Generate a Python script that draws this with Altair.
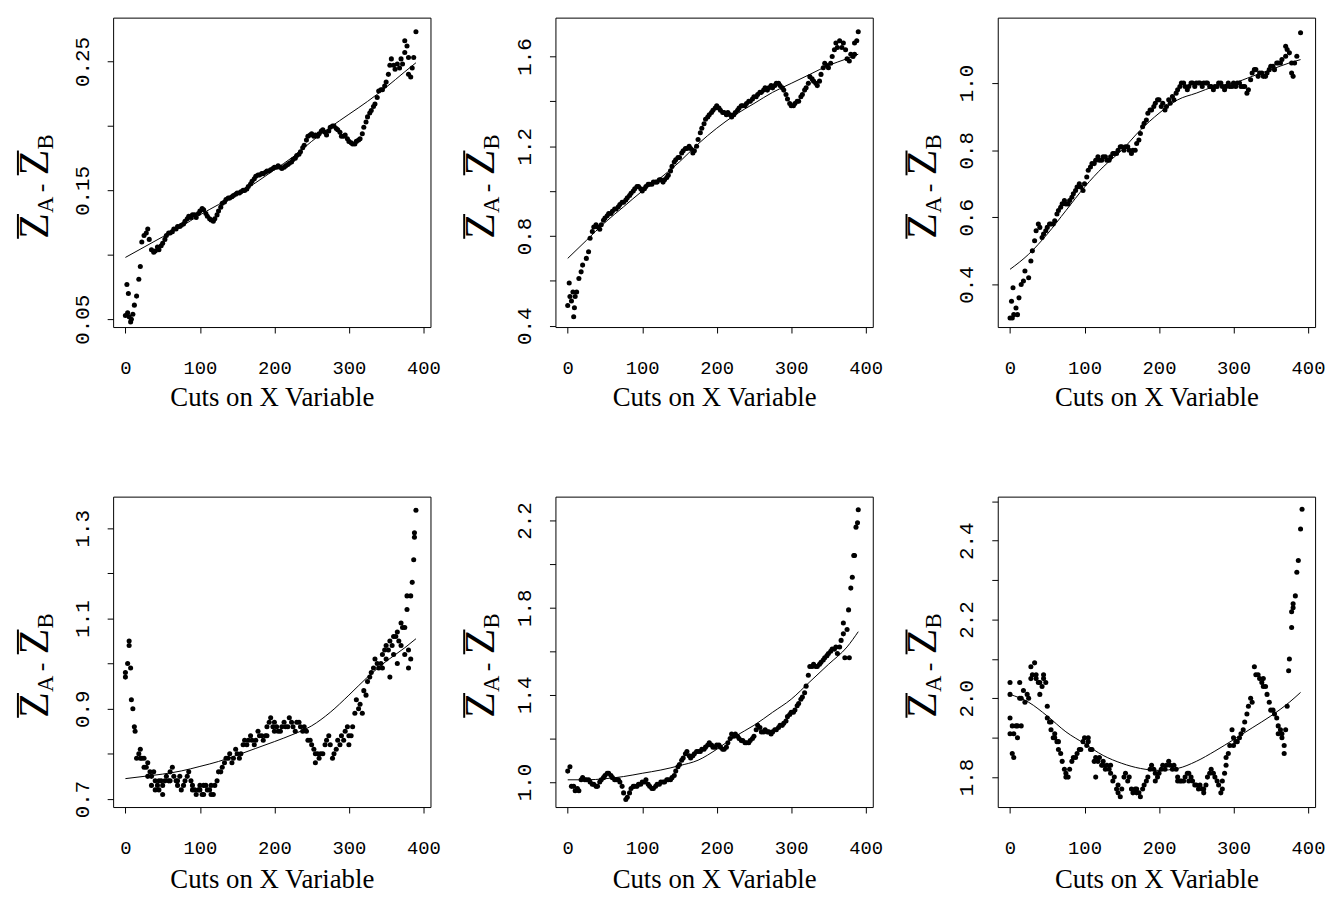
import altair as alt
import pandas as pd

# ---------------- data ----------------
XS = [0, 5, 10, 15, 20, 25, 30, 35, 40, 45, 50, 55, 60, 65, 70, 75, 80, 85, 90, 95,
      100, 105, 110, 115, 120, 125, 130, 135, 140, 145, 150, 155, 160, 165, 170, 175,
      180, 185, 190, 195, 200, 205, 210, 215, 220, 225, 230, 235, 240, 245, 250, 255,
      260, 265, 270, 275, 280, 285, 290, 295, 300, 305, 310, 315, 320, 325, 330, 335,
      340, 345, 350, 355, 360, 365, 370, 375, 380, 385, 390]

P1_Y = [0.053, 0.052, 0.054, 0.068, 0.091, 0.115, 0.120, 0.104, 0.103, 0.104, 0.109, 0.115,
        0.117, 0.120, 0.122, 0.123, 0.126, 0.130, 0.131, 0.129, 0.134, 0.135, 0.130, 0.127,
        0.128, 0.134, 0.140, 0.143, 0.144, 0.146, 0.148, 0.149, 0.150, 0.153, 0.157, 0.161,
        0.162, 0.163, 0.165, 0.166, 0.168, 0.169, 0.167, 0.169, 0.171, 0.174, 0.177, 0.180,
        0.185, 0.192, 0.194, 0.193, 0.194, 0.197, 0.193, 0.199, 0.200, 0.197, 0.192, 0.193,
        0.188, 0.186, 0.188, 0.190, 0.199, 0.207, 0.212, 0.217, 0.227, 0.228, 0.234, 0.247,
        0.247, 0.248, 0.252, 0.257, 0.253, 0.245, 0.273]
P1_EX_X = [2, 3, 4, 7, 8, 12, 18, 22, 28, 32, 38, 43, 48, 53, 58, 63, 68, 73, 78, 83, 88,
           93, 98, 103, 108, 113, 118, 123, 128, 133, 138, 143, 148, 153, 158, 163, 168, 173,
           178, 183, 188, 193, 198, 203, 208, 213, 218, 223, 228, 233, 238, 243, 248, 253,
           258, 263, 268, 273, 278, 283, 288, 293, 298, 303, 308, 313, 318, 323, 328, 333,
           338, 343, 348, 353, 357, 362, 368, 372, 375, 378, 380, 383, 387]
P1_EX_Y = [0.077, 0.055, 0.070, 0.048, 0.050, 0.061, 0.081, 0.110, 0.117, 0.112, 0.102,
           0.106, 0.107, 0.112, 0.117, 0.118, 0.120, 0.122, 0.124, 0.128, 0.129, 0.131,
           0.132, 0.136, 0.132, 0.128, 0.126, 0.131, 0.137, 0.141, 0.144, 0.145, 0.147,
           0.148, 0.150, 0.151, 0.155, 0.159, 0.162, 0.163, 0.164, 0.165, 0.167, 0.168,
           0.168, 0.168, 0.170, 0.172, 0.175, 0.178, 0.183, 0.189, 0.193, 0.192, 0.192,
           0.196, 0.195, 0.196, 0.200, 0.198, 0.195, 0.192, 0.190, 0.187, 0.186, 0.189,
           0.194, 0.203, 0.210, 0.215, 0.222, 0.228, 0.231, 0.240, 0.252, 0.244, 0.245,
           0.248, 0.266, 0.262, 0.240, 0.238, 0.253]

P2_Y = [0.49, 0.51, 0.53, 0.61, 0.67, 0.70, 0.79, 0.84, 0.84, 0.85, 0.88, 0.90, 0.91, 0.92,
        0.94, 0.95, 0.97, 0.99, 1.01, 1.02, 1.00, 1.02, 1.03, 1.04, 1.04, 1.05, 1.05, 1.07,
        1.11, 1.14, 1.15, 1.18, 1.19, 1.19, 1.18, 1.23, 1.28, 1.32, 1.34, 1.36, 1.38, 1.36,
        1.35, 1.35, 1.33, 1.35, 1.37, 1.38, 1.39, 1.40, 1.42, 1.43, 1.44, 1.46, 1.46, 1.46,
        1.48, 1.47, 1.45, 1.41, 1.38, 1.39, 1.40, 1.43, 1.46, 1.51, 1.49, 1.47, 1.52, 1.57,
        1.55, 1.60, 1.66, 1.67, 1.66, 1.59, 1.61, 1.61, 1.71]
P2_EX_X = [2, 3, 7, 8, 9, 12, 18, 28, 33, 38, 43, 48, 53, 58, 63, 68, 73, 78, 83, 88, 93,
           98, 103, 108, 113, 118, 123, 128, 133, 138, 143, 148, 153, 158, 163, 168, 173,
           178, 183, 188, 193, 198, 203, 208, 213, 218, 223, 228, 233, 238, 243, 248, 253,
           258, 263, 268, 273, 278, 283, 288, 293, 298, 303, 308, 313, 318, 323, 328, 333,
           338, 343, 348, 353, 358, 362, 368, 373, 378, 383, 385, 388]
P2_EX_Y = [0.59, 0.53, 0.55, 0.44, 0.48, 0.55, 0.64, 0.73, 0.82, 0.85, 0.83, 0.87, 0.89,
           0.90, 0.92, 0.93, 0.95, 0.96, 0.98, 1.00, 1.02, 1.01, 1.01, 1.03, 1.03, 1.04,
           1.05, 1.04, 1.06, 1.09, 1.13, 1.15, 1.17, 1.19, 1.20, 1.17, 1.20, 1.26, 1.30,
           1.33, 1.35, 1.37, 1.37, 1.35, 1.34, 1.34, 1.34, 1.36, 1.38, 1.38, 1.40, 1.41,
           1.42, 1.44, 1.45, 1.45, 1.47, 1.47, 1.48, 1.46, 1.43, 1.39, 1.38, 1.40, 1.42,
           1.45, 1.48, 1.50, 1.48, 1.49, 1.55, 1.56, 1.57, 1.63, 1.64, 1.64, 1.63, 1.58,
           1.60, 1.66, 1.67]

P3_Y = [0.30, 0.31, 0.31, 0.40, 0.44, 0.42, 0.50, 0.56, 0.57, 0.55, 0.57, 0.58, 0.59, 0.62,
        0.64, 0.64, 0.65, 0.67, 0.69, 0.69, 0.70, 0.74, 0.76, 0.77, 0.77, 0.78, 0.77, 0.78,
        0.79, 0.80, 0.81, 0.81, 0.80, 0.80, 0.82, 0.85, 0.88, 0.91, 0.92, 0.94, 0.95, 0.94,
        0.93, 0.94, 0.95, 0.98, 1.00, 0.99, 0.99, 1.00, 1.00, 1.00, 1.00, 1.00, 0.99, 0.99,
        1.00, 0.99, 0.99, 0.99, 1.00, 1.00, 0.99, 0.99, 0.98, 1.03, 1.04, 1.03, 1.02, 1.03,
        1.05, 1.04, 1.06, 1.07, 1.11, 1.09, 1.02, 1.08, 1.15]
P3_EX_X = [2, 3, 4, 8, 12, 18, 28, 33, 38, 43, 48, 53, 58, 63, 68, 73, 78, 83, 88, 93, 98,
           103, 108, 113, 118, 123, 128, 133, 138, 143, 148, 153, 158, 163, 168, 173, 178,
           183, 188, 193, 198, 203, 208, 213, 218, 223, 228, 233, 238, 243, 248, 253, 258,
           263, 268, 273, 278, 283, 288, 293, 298, 303, 308, 313, 318, 323, 328, 333, 338,
           343, 348, 353, 358, 363, 370, 372, 378, 378, 382]
P3_EX_Y = [0.35, 0.30, 0.39, 0.33, 0.36, 0.41, 0.47, 0.53, 0.58, 0.54, 0.56, 0.58, 0.58,
           0.61, 0.63, 0.65, 0.64, 0.66, 0.68, 0.70, 0.68, 0.72, 0.75, 0.76, 0.78, 0.77,
           0.78, 0.77, 0.79, 0.79, 0.81, 0.80, 0.81, 0.79, 0.80, 0.83, 0.87, 0.89, 0.92,
           0.93, 0.95, 0.93, 0.92, 0.95, 0.96, 0.97, 0.99, 1.00, 0.98, 1.00, 0.99, 1.00,
           0.99, 1.00, 0.99, 0.98, 0.99, 1.00, 0.98, 1.00, 0.99, 0.99, 1.00, 0.99, 0.97,
           1.01, 1.04, 1.02, 1.03, 1.02, 1.04, 1.05, 1.06, 1.06, 1.08, 1.10, 1.06, 1.03, 1.06]

P4_Y = [0.97, 1.05, 0.90, 0.79, 0.81, 0.79, 0.75, 0.75, 0.74, 0.74, 0.73, 0.75, 0.76, 0.75,
        0.73, 0.72, 0.74, 0.76, 0.73, 0.71, 0.72, 0.73, 0.72, 0.71, 0.73, 0.76, 0.77, 0.79,
        0.80, 0.79, 0.80, 0.80, 0.83, 0.83, 0.83, 0.83, 0.84, 0.83, 0.86, 0.88, 0.87, 0.85,
        0.86, 0.86, 0.88, 0.86, 0.87, 0.86, 0.86, 0.83, 0.82, 0.80, 0.79, 0.80, 0.83, 0.82,
        0.80, 0.83, 0.84, 0.85, 0.84, 0.86, 0.92, 0.91, 0.94, 0.96, 0.98, 1.01, 0.99, 1.02,
        1.04, 1.05, 1.06, 1.07, 1.09, 1.08, 0.99, 1.18, 1.34]
P4_EX_X = [0, 3, 5, 7, 8, 12, 13, 18, 20, 22, 25, 28, 30, 33, 35, 38, 40, 43, 45, 48, 50,
           53, 58, 60, 63, 68, 70, 73, 78, 83, 88, 90, 93, 98, 100, 103, 105, 108, 113, 115,
           118, 123, 128, 133, 138, 143, 148, 153, 158, 163, 168, 173, 178, 183, 188, 190,
           193, 198, 200, 203, 208, 213, 218, 223, 228, 233, 238, 243, 248, 253, 255, 258,
           262, 268, 273, 278, 283, 288, 293, 298, 300, 303, 308, 313, 318, 323, 328, 333,
           338, 343, 345, 348, 350, 353, 355, 358, 360, 363, 365, 367, 370, 372, 375, 378,
           378, 380, 383, 383, 387, 388, 388]
P4_EX_Y = [0.98, 1.00, 1.04, 0.99, 0.92, 0.86, 0.85, 0.80, 0.79, 0.79, 0.77, 0.77, 0.78,
           0.76, 0.73, 0.76, 0.72, 0.73, 0.72, 0.74, 0.71, 0.74, 0.74, 0.74, 0.77, 0.74,
           0.74, 0.75, 0.73, 0.75, 0.74, 0.72, 0.72, 0.72, 0.73, 0.71, 0.71, 0.73, 0.72,
           0.73, 0.71, 0.74, 0.76, 0.78, 0.79, 0.78, 0.81, 0.79, 0.82, 0.82, 0.84, 0.82,
           0.85, 0.84, 0.84, 0.84, 0.87, 0.86, 0.85, 0.86, 0.85, 0.87, 0.86, 0.87, 0.85,
           0.87, 0.85, 0.85, 0.83, 0.81, 0.78, 0.80, 0.80, 0.82, 0.84, 0.79, 0.81, 0.82,
           0.83, 0.86, 0.82, 0.84, 0.89, 0.90, 0.89, 0.93, 0.97, 0.99, 1.00, 1.00, 0.99,
           1.03, 1.01, 1.03, 0.97, 1.04, 1.02, 1.06, 1.00, 1.05, 1.04, 1.08, 1.02, 1.12,
           1.15, 1.03, 1.01, 1.15, 1.23, 1.28, 1.29]

P5_Y = [1.05, 0.98, 0.96, 0.96, 1.02, 1.01, 1.00, 0.99, 0.98, 1.01, 1.03, 1.04, 1.02, 1.01,
        1.00, 0.95, 0.93, 0.97, 0.98, 0.99, 1.00, 1.01, 0.98, 0.97, 0.99, 1.00, 1.00, 1.01,
        1.02, 1.05, 1.08, 1.11, 1.14, 1.11, 1.13, 1.14, 1.15, 1.16, 1.18, 1.16, 1.17, 1.16,
        1.15, 1.18, 1.22, 1.22, 1.20, 1.19, 1.18, 1.19, 1.21, 1.26, 1.23, 1.24, 1.23, 1.23,
        1.24, 1.26, 1.27, 1.30, 1.32, 1.33, 1.36, 1.39, 1.44, 1.53, 1.54, 1.53, 1.55, 1.57,
        1.59, 1.61, 1.62, 1.62, 1.68, 1.70, 1.89, 2.04, 2.25]
P5_EX_X = [3, 8, 13, 18, 23, 28, 33, 38, 43, 48, 53, 58, 63, 68, 73, 78, 83, 88, 93, 98,
           103, 108, 113, 118, 123, 128, 133, 138, 143, 148, 153, 158, 163, 168, 173, 178,
           183, 188, 193, 198, 203, 208, 213, 218, 223, 228, 233, 238, 243, 248, 253, 258,
           263, 268, 273, 278, 283, 288, 293, 298, 303, 308, 313, 318, 323, 328, 333, 338,
           343, 348, 353, 358, 362, 367, 370, 372, 377, 378, 382, 384, 387, 389]
P5_EX_Y = [1.07, 0.98, 0.97, 1.01, 1.01, 1.01, 0.99, 0.98, 1.00, 1.02, 1.04, 1.03, 1.01,
           1.01, 0.98, 0.92, 0.95, 0.98, 0.98, 0.99, 1.00, 0.99, 0.97, 0.98, 0.99, 1.00,
           1.01, 1.01, 1.03, 1.07, 1.10, 1.13, 1.12, 1.12, 1.14, 1.14, 1.15, 1.17, 1.17,
           1.16, 1.17, 1.15, 1.16, 1.20, 1.21, 1.21, 1.19, 1.18, 1.18, 1.20, 1.24, 1.25,
           1.23, 1.23, 1.22, 1.24, 1.25, 1.26, 1.28, 1.31, 1.32, 1.35, 1.38, 1.41, 1.49,
           1.53, 1.53, 1.54, 1.56, 1.58, 1.60, 1.61, 1.59, 1.65, 1.73, 1.57, 1.79, 1.57,
           1.94, 2.04, 2.17, 2.19]

P6_Y = [2.04, 1.91, 1.93, 2.00, 1.99, 2.00, 2.06, 2.06, 2.04, 2.05, 1.98, 1.92, 1.91, 1.89,
        1.84, 1.81, 1.82, 1.85, 1.86, 1.87, 1.90, 1.90, 1.87, 1.85, 1.85, 1.84, 1.83, 1.83,
        1.80, 1.76, 1.77, 1.81, 1.80, 1.76, 1.77, 1.75, 1.78, 1.80, 1.83, 1.81, 1.81, 1.83,
        1.83, 1.83, 1.83, 1.80, 1.79, 1.80, 1.81, 1.79, 1.78, 1.78, 1.76, 1.80, 1.82, 1.80,
        1.78, 1.77, 1.83, 1.88, 1.90, 1.89, 1.91, 1.94, 1.98, 1.99, 2.06, 2.05, 2.05, 2.01,
        1.97, 1.96, 1.91, 1.90, 1.92, 2.10, 2.23, 2.32, 2.43]
P6_EX_X = [0, 0, 0, 3, 3, 5, 8, 10, 13, 13, 15, 18, 23, 28, 28, 33, 35, 38, 40, 43, 45, 48,
           50, 53, 55, 58, 60, 63, 65, 68, 73, 75, 78, 83, 88, 93, 98, 103, 105, 108, 113,
           115, 118, 123, 125, 128, 133, 135, 138, 143, 145, 148, 153, 158, 163, 168, 170,
           173, 178, 183, 188, 193, 195, 198, 203, 208, 213, 218, 223, 225, 228, 233, 238,
           240, 243, 248, 253, 258, 260, 263, 268, 273, 278, 283, 285, 288, 290, 293, 298,
           300, 303, 308, 313, 318, 323, 328, 333, 338, 340, 343, 348, 353, 358, 360, 363,
           365, 368, 368, 372, 374, 378, 378, 380, 383, 387, 392]
P6_EX_Y = [2.01, 1.95, 1.91, 1.93, 1.86, 1.85, 1.93, 1.90, 2.04, 2.00, 1.93, 2.02, 2.01,
           2.05, 2.08, 2.09, 2.05, 2.04, 2.01, 2.03, 2.06, 2.04, 1.95, 1.94, 1.94, 1.90,
           1.90, 1.89, 1.87, 1.86, 1.82, 1.80, 1.80, 1.84, 1.85, 1.87, 1.89, 1.88, 1.89,
           1.87, 1.84, 1.80, 1.84, 1.83, 1.83, 1.82, 1.82, 1.81, 1.79, 1.77, 1.78, 1.75,
           1.80, 1.79, 1.77, 1.77, 1.76, 1.76, 1.77, 1.79, 1.82, 1.82, 1.79, 1.80, 1.82,
           1.82, 1.84, 1.82, 1.82, 1.79, 1.79, 1.79, 1.81, 1.79, 1.80, 1.78, 1.77, 1.77,
           1.77, 1.78, 1.81, 1.81, 1.79, 1.76, 1.79, 1.81, 1.85, 1.86, 1.92, 1.88, 1.89,
           1.90, 1.92, 1.96, 2.00, 2.08, 2.06, 2.04, 2.03, 2.03, 1.99, 1.97, 1.95, 1.93,
           1.92, 1.91, 1.88, 1.86, 1.98, 2.07, 2.18, 2.22, 2.24, 2.26, 2.35, 2.48]

# smooth fitted curves
LX = [0, 25, 50, 75, 100, 125, 150, 175, 200, 225, 250, 275, 300, 325, 350, 375, 390]
L1 = [0.098, 0.106, 0.114, 0.122, 0.131, 0.139, 0.147, 0.156, 0.166, 0.176, 0.188, 0.199,
      0.209, 0.219, 0.230, 0.242, 0.249]
L2 = [0.70, 0.78, 0.86, 0.93, 1.00, 1.06, 1.13, 1.21, 1.28, 1.34, 1.39, 1.44, 1.48, 1.52,
      1.56, 1.59, 1.61]
L3 = [0.445, 0.49, 0.55, 0.62, 0.69, 0.75, 0.80, 0.86, 0.91, 0.95, 0.97, 0.99, 1.00, 1.02,
      1.04, 1.06, 1.07]
L4 = [0.745, 0.75, 0.755, 0.762, 0.772, 0.783, 0.797, 0.812, 0.827, 0.843, 0.862, 0.892,
      0.93, 0.97, 1.005, 1.035, 1.055]
L5 = [1.01, 1.01, 1.015, 1.025, 1.04, 1.055, 1.075, 1.10, 1.15, 1.21, 1.26, 1.32, 1.38, 1.46,
      1.54, 1.62, 1.69]
L6 = [2.01, 1.99, 1.955, 1.915, 1.885, 1.855, 1.835, 1.822, 1.817, 1.822, 1.840, 1.866,
      1.895, 1.925, 1.955, 1.99, 2.015]

# axes
X_TICKS = [0, 50, 100, 150, 200, 250, 300, 350, 400]
X_LABELED = [0, 100, 200, 300, 400]
Y1_TICKS = [0.05, 0.10, 0.15, 0.20, 0.25]
Y1_LABELED = [0.05, 0.15, 0.25]
Y2_TICKS = [0.4, 0.6, 0.8, 1.0, 1.2, 1.4, 1.6]
Y2_LABELED = [0.4, 0.8, 1.2, 1.6]
Y3_TICKS = [0.4, 0.6, 0.8, 1.0]
Y3_LABELED = [0.4, 0.6, 0.8, 1.0]
Y4_TICKS = [0.7, 0.8, 0.9, 1.0, 1.1, 1.2, 1.3]
Y4_LABELED = [0.7, 0.9, 1.1, 1.3]
Y5_TICKS = [1.0, 1.2, 1.4, 1.6, 1.8, 2.0, 2.2]
Y5_LABELED = [1.0, 1.4, 1.8, 2.2]
Y6_TICKS = [1.8, 1.9, 2.0, 2.1, 2.2, 2.3, 2.4, 2.5]
Y6_LABELED = [1.8, 2.0, 2.2, 2.4]

X_TITLE = "Cuts on X Variable"

PANELS = [
    dict(y=P1_Y, ex=P1_EX_X, ey=P1_EX_Y, ly=L1, dom=[0.044, 0.284], ticks=Y1_TICKS, lab=Y1_LABELED, fmt=".2f"),
    dict(y=P2_Y, ex=P2_EX_X, ey=P2_EX_Y, ly=L2, dom=[0.394, 1.773], ticks=Y2_TICKS, lab=Y2_LABELED, fmt=".1f"),
    dict(y=P3_Y, ex=P3_EX_X, ey=P3_EX_Y, ly=L3, dom=[0.273, 1.195], ticks=Y3_TICKS, lab=Y3_LABELED, fmt=".1f"),
    dict(y=P4_Y, ex=P4_EX_X, ey=P4_EX_Y, ly=L4, dom=[0.682, 1.370], ticks=Y4_TICKS, lab=Y4_LABELED, fmt=".1f"),
    dict(y=P5_Y, ex=P5_EX_X, ey=P5_EX_Y, ly=L5, dom=[0.885, 2.310], ticks=Y5_TICKS, lab=Y5_LABELED, fmt=".1f"),
    dict(y=P6_Y, ex=P6_EX_X, ey=P6_EX_Y, ly=L6, dom=[1.724, 2.512], ticks=Y6_TICKS, lab=Y6_LABELED, fmt=".1f"),
]

W = 320
HEIGHTS = [312, 313]
TITLE_BASE_X = [-66, -62, -62]
X_TITLE_PAD = [7, 9]


def label_expr(vals):
    cond = " || ".join(f"abs(datum.value - {v}) < 1e-6" for v in vals)
    return f"({cond}) ? datum.label : ''"


def y_title_layers(xb):
    one = pd.DataFrame({"k": [0]})
    pieces = [("Z", 42, xb, 223), ("A", 23, xb + 5, 197), ("-", 26, xb + 1, 176),
              ("Z", 42, xb, 159), ("B", 23, xb + 5, 133)]
    layers = []
    for txt, fs, xx, yy in pieces:
        layers.append(
            alt.Chart(one).mark_text(text=txt, font="Liberation Serif", fontSize=fs, angle=270,
                                     align="left", baseline="alphabetic", color="black")
            .encode(x=alt.value(xx), y=alt.value(yy)))
    for ya, yb in [(198, 223), (134, 159)]:
        layers.append(
            alt.Chart(one).mark_rule(color="black", strokeWidth=2)
            .encode(x=alt.value(xb - 30), y=alt.value(ya), y2=alt.value(yb)))
    return layers


def make_panel(p, row, col):
    pts = pd.DataFrame({"x": XS + p["ex"], "y": p["y"] + p["ey"]})
    ln = pd.DataFrame({"x": LX, "y": p["ly"]})
    xscale = alt.Scale(domain=[-16.5, 409.5], nice=False, zero=False)
    yscale = alt.Scale(domain=p["dom"], nice=False, zero=False)
    xaxis = alt.Axis(values=X_TICKS, labelExpr=label_expr(X_LABELED), title=X_TITLE,
                     titleFont="Liberation Serif", titleFontSize=27, titleFontWeight="normal",
                     titleColor="black", titlePadding=X_TITLE_PAD[row],
                     labelFont="Liberation Mono", labelFontSize=19, labelColor="black",
                     labelPadding=26, tickSize=6, tickColor="black", tickWidth=1,
                     domain=False, grid=False, labelFlush=False, labelOverlap=False)
    yaxis = alt.Axis(values=p["ticks"], format=p["fmt"], labelExpr=label_expr(p["lab"]),
                     title=None, labelAngle=270, labelAlign="center", labelBaseline="bottom",
                     labelFont="Liberation Mono", labelFontSize=21, labelColor="black",
                     labelPadding=15, tickSize=6, tickColor="black", tickWidth=1,
                     domain=False, grid=False, labelFlush=False, labelOverlap=False)
    points = alt.Chart(pts).mark_circle(size=26, color="black", opacity=1).encode(
        x=alt.X("x:Q", scale=xscale, axis=xaxis),
        y=alt.Y("y:Q", scale=yscale, axis=yaxis),
    )
    line = alt.Chart(ln).mark_line(color="black", strokeWidth=1, interpolate="monotone").encode(
        x=alt.X("x:Q", scale=xscale),
        y=alt.Y("y:Q", scale=yscale),
    )
    return alt.layer(points, line, *y_title_layers(TITLE_BASE_X[col])).properties(
        width=W, height=HEIGHTS[row])


rows = []
for r in range(2):
    rows.append(alt.hconcat(*[make_panel(PANELS[r * 3 + c], r, c) for c in range(3)], spacing=18))

chart = alt.vconcat(*rows, spacing=85).properties(
    padding={"left": 5, "top": 5, "right": 0, "bottom": 0},
    background="white",
).configure_view(stroke="black", strokeWidth=1).resolve_scale(x="independent", y="independent")

chart.save("out.html", embed_options={"renderer": "svg", "actions": False})
